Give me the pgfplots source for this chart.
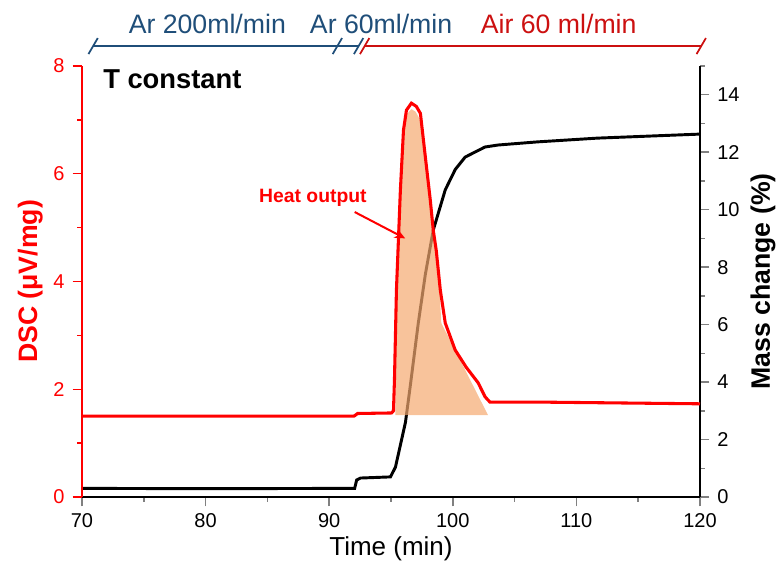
\documentclass[border=0pt]{standalone}
\usepackage{fontspec}
\setmainfont{Liberation Sans}
\usepackage{pgfplots}
\pgfplotsset{compat=1.18}
\usetikzlibrary{arrows.meta}
\definecolor{arblue}{RGB}{31,78,121}
\definecolor{airred}{RGB}{204,16,16}
\definecolor{heatfill}{RGB}{245,169,112}
\begin{document}
\begin{tikzpicture}
\pgfplotsset{
 common/.style={
  scale only axis, width=463.5pt, height=323.25pt,
  xmin=70, xmax=120, at={(0,0)}, anchor=south west,
  tick align=outside, major tick length=7pt, minor tick length=3.5pt,
  every tick/.append style={line width=1.1pt},
  axis line style={line width=1.4pt},
  tick label style={font=\fontsize{15}{18}\selectfont},
  /pgf/number format/assume math mode=true,
  clip=false,
 }
}
% ---- Mass change (right axis) ----
\begin{axis}[common,
  axis x line*=bottom, axis y line*=right,
  ymin=0, ymax=15,
  xtick={70,80,...,120}, minor xtick={75,85,...,115},
  ytick={0,2,...,14}, minor ytick={1,3,...,15},
  yticklabel style={xshift=2.5pt},
  xticklabel style={yshift=-1.5pt},
]
\addplot[black, line width=2.2pt] coordinates {
(70,0.30) (80,0.29) (92.06,0.30) (92.22,0.59) (92.54,0.66) (94.96,0.70)
(95.36,1.04) (95.85,1.98) (96.17,2.6) (96.57,3.9) (97.21,6.06) (97.78,7.75)
(98.42,9.29) (99.39,10.69) (100.2,11.4) (101.0,11.83) (102.6,12.18)
(103.66,12.25) (106.88,12.36) (111.71,12.49) (120,12.63)
};
\node[rotate=90, font=\bfseries\fontsize{20}{24}\selectfont] at (rel axis cs:1.102,0.5) {Mass change (\%)};
\node[font=\fontsize{19.5}{23}\selectfont] at (rel axis cs:0.5,-0.1206) {Time (min)};
\end{axis}
% ---- DSC (left axis) ----
\begin{axis}[common,
  axis x line=none, axis y line*=left,
  ymin=0, ymax=8,
  ytick={0,2,...,8}, minor ytick={1,3,5,7},
  axis line style={red, line width=1.4pt},
  every tick/.append style={red},
  yticklabel style={text=red, xshift=-2.5pt},
]
\addplot[fill=heatfill, fill opacity=0.7, draw=none] coordinates {
(95.35,1.52) (95.42,3.8) (95.58,4.8) (95.75,5.6) (96.0,6.7) (96.25,7.1)
(96.65,7.2) (97.0,7.15) (97.35,7.0) (97.75,6.2) (98.15,5.4) (98.4,4.85)
(98.65,4.45) (98.95,3.75) (99.07,3.23) (102.85,1.52)
};
\addplot[red, line width=2.3pt] coordinates {
(70,1.50) (80,1.50) (92.0,1.50) (92.3,1.55) (95.05,1.56) (95.20,1.60)
(95.28,2.17) (95.44,3.84) (95.60,4.77) (95.76,5.70) (96.01,6.81) (96.25,7.18)
(96.65,7.31) (97.05,7.25) (97.38,7.12) (97.78,6.31) (98.18,5.51) (98.42,4.95)
(98.66,4.58) (98.99,3.84) (99.39,3.23) (100.19,2.73) (101.08,2.41)
(102.05,2.12) (102.61,1.86) (103.01,1.76) (107.68,1.76) (120,1.73)
};
\node[rotate=90, text=red, font=\bfseries\fontsize{20}{24}\selectfont] at (rel axis cs:-0.0837,0.5) {DSC (μV/mg)};
\node[anchor=base west, inner sep=0pt, font=\bfseries\fontsize{20.5}{24}\selectfont] at (axis cs:71.7,7.59) {T constant};
\node[text=red, font=\bfseries\fontsize{14.5}{17}\selectfont] at (axis cs:88.68,5.56) {Heat output};
\draw[red, line width=1.5pt, -{Stealth[length=8pt,width=7pt]}] (axis cs:92.06,5.29) -- (axis cs:96.15,4.80);
% gas flow bracket
\draw[arblue, line width=1.3pt] (axis cs:70.9,8.37) -- (axis cs:92.38,8.37);
\draw[arblue, line width=1.3pt] (axis cs:70.9,8.37) +(-3.5pt,-6pt) -- +(3.5pt,6pt);
\draw[arblue, line width=1.3pt] (axis cs:90.66,8.37) +(-3.5pt,-6pt) -- +(3.5pt,6pt);
\draw[arblue, line width=1.3pt] (axis cs:92.38,8.37) +(-3.5pt,-6pt) -- +(3.5pt,6pt);
\draw[airred, line width=1.3pt] (axis cs:92.87,8.37) -- (axis cs:120.1,8.37);
\draw[airred, line width=1.3pt] (axis cs:92.87,8.37) +(-3.5pt,-6pt) -- +(3.5pt,6pt);
\draw[airred, line width=1.3pt] (axis cs:120.1,8.37) +(-3.5pt,-6pt) -- +(3.5pt,6pt);
\node[anchor=base, text=arblue, font=\fontsize{20}{24}\selectfont] at (axis cs:80.14,8.61) {Ar 200ml/min};
\node[anchor=base, text=arblue, font=\fontsize{20}{24}\selectfont] at (axis cs:94.2,8.61) {Ar 60ml/min};
\node[anchor=base, text=airred, font=\fontsize{20}{24}\selectfont] at (axis cs:108.57,8.61) {Air 60 ml/min};
\end{axis}
\pgfresetboundingbox
\path[use as bounding box] (-61.5pt,-51pt) rectangle (522pt,372.75pt);
\end{tikzpicture}
\end{document}
